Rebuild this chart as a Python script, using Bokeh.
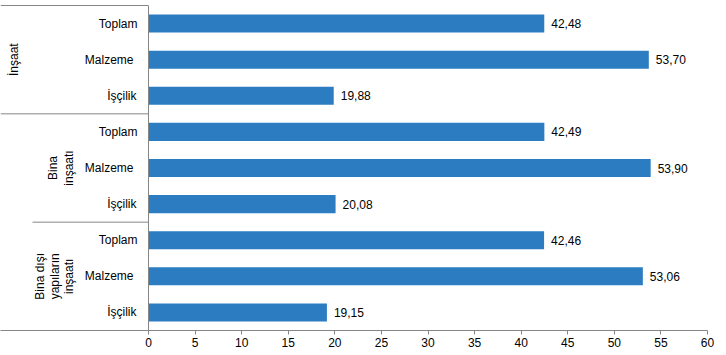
import math
from bokeh.plotting import figure
from bokeh.models import (ColumnDataSource, LabelSet, Label, Arrow, Range1d,
                          FixedTicker)
from bokeh.core.properties import value
from bokeh.embed import file_html
from bokeh.resources import INLINE

# ---- data ----
groups = ["İnşaat", "Bina inşaatı", "Bina dışı yapıların inşaatı"]
group_lines = [["İnşaat"], ["Bina", "inşaatı"], ["Bina dışı", "yapıların", "inşaatı"]]
items = ["Toplam", "Malzeme", "İşçilik"]
insaat = [42.48, 53.70, 19.88]
bina = [42.49, 53.90, 20.08]
bina_disi = [42.46, 53.06, 19.15]
x_ticks = [0, 5, 10, 15, 20, 25, 30, 35, 40, 45, 50, 55, 60]

series = [insaat, bina, bina_disi]

# ---- layout ----
W, H = 726, 355
AXIS_PX = 148          # canvas x of value 0
RIGHT_PX = 707         # canvas x of value 60
TOP_PX, BOTTOM_PX = 5, 330
XMAX = 60
scale = (RIGHT_PX - AXIS_PX) / XMAX
def px_to_x(px):
    return (px - AXIS_PX) / scale

n = len(groups) * len(items)
ypx = (BOTTOM_PX - TOP_PX) / n
pad_top = 2
y_end = n + pad_top / ypx

FONT = "Liberation Sans"
BLUE = "#2B7CC1"
GREY = "#868686"
item_label_end_px = [137, 133, 136]

ys, vals, labs, txt, catx = [], [], [], [], []
for gi, g in enumerate(groups):
    for ii, it in enumerate(items):
        y = n - (gi * len(items) + ii) - 0.5
        ys.append(y)
        vals.append(series[gi][ii])
        labs.append(it)
        txt.append(f"{series[gi][ii]:.2f}".replace(".", ","))
        catx.append(px_to_x(item_label_end_px[ii]))

src = ColumnDataSource(dict(y=ys, v=vals, item=labs, txt=txt,
                            zero=[0.0] * n, catx=catx))

p = figure(width=W, height=H, output_backend="svg", toolbar_location=None,
           x_range=Range1d(px_to_x(0), XMAX), y_range=Range1d(0, y_end),
           y_axis_location=None,
           min_border_left=0, min_border_right=W - RIGHT_PX,
           min_border_top=TOP_PX - pad_top, min_border_bottom=H - BOTTOM_PX)
p.outline_line_color = None
p.grid.visible = False
p.background_fill_color = "white"
p.border_fill_color = "white"

p.hbar(y="y", right="v", left="zero", height=0.5, source=src,
       fill_color=BLUE, line_color=None)

# x axis
xa = p.xaxis[0]
xa.ticker = FixedTicker(ticks=x_ticks)
xa.axis_line_color = GREY
xa.major_tick_line_color = GREY
xa.major_tick_out = 4
xa.major_tick_in = 0
xa.minor_tick_line_color = None
xa.major_label_text_font = FONT
xa.major_label_text_font_size = "12px"
xa.major_label_text_color = "black"
xa.major_label_standoff = 3

# vertical category axis line
p.add_layout(Arrow(end=None, x_start=0, y_start=0, x_end=0, y_end=n,
                   line_color=GREY, line_width=1))

# value labels
p.add_layout(LabelSet(x="v", y="y", text="txt", source=src, x_offset=7,
                      text_align="left", text_baseline="middle",
                      text_font=value(FONT), text_font_size="12px",
                      text_color="black"))
# category labels
p.add_layout(LabelSet(x="catx", y="y", text="item", source=src,
                      text_align="right", text_baseline="middle",
                      text_font=value(FONT), text_font_size="12px",
                      text_color="black"))

# group separators
sep_starts = [0, 0, 32]
for k, sx in enumerate(sep_starts):
    yb = n - k * len(items)
    p.add_layout(Arrow(end=None, x_start=px_to_x(sx), y_start=yb, x_end=0, y_end=yb,
                       line_color=GREY, line_width=1))

# group labels (rotated)
group_x = [[13], [52, 68], [39, 54, 68]]
for gi, lines in enumerate(group_lines):
    yc = n - gi * len(items) - len(items) / 2
    for li, line in enumerate(lines):
        p.add_layout(Label(x=px_to_x(group_x[gi][li]), y=yc, text=line,
                           angle=math.pi / 2, text_align="center",
                           text_baseline="middle", text_font=FONT,
                           text_font_size="12px", text_color="black"))

open("out.html", "w").write(file_html(p, INLINE))
